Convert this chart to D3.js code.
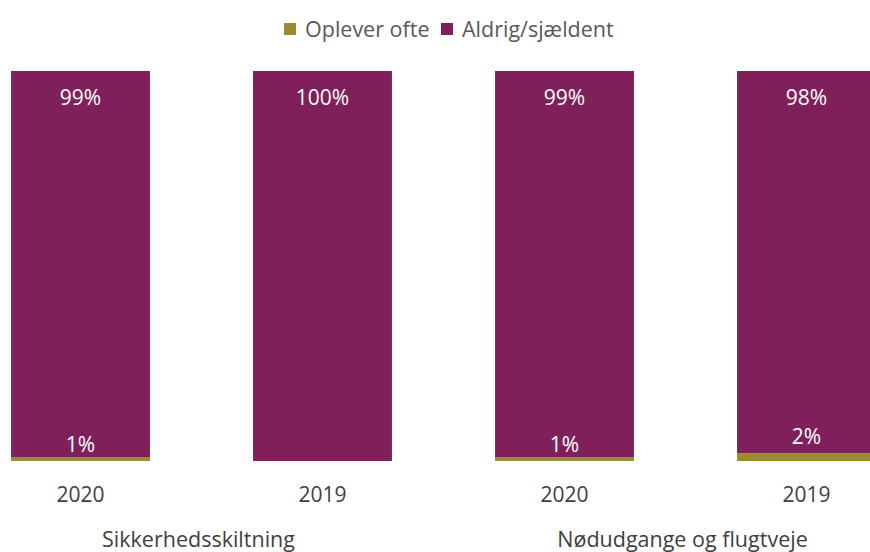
<!DOCTYPE html>
<html>
<head>
<meta charset="utf-8">
<script src="https://cdn.jsdelivr.net/npm/d3@7"></script>
<style>
  body { margin: 0; background: #fff; }
  text { font-family: "Open Sans", sans-serif; }
</style>
</head>
<body>
<script>
const width = 870, height = 552;

// data
const groups = ['Sikkerhedsskiltning', 'Sikkerhedsskiltning', 'Nødudgange og flugtveje', 'Nødudgange og flugtveje'];
const years = ['2020', '2019', '2020', '2019'];
const often = [1, 0, 1, 2];
const never = [99, 100, 99, 98];
const seriesNames = ['Oplever ofte', 'Aldrig/sjældent'];
const colors = ['#9A8A32', '#80205A'];

const keys = years.map((y, i) => i + '');
const rows = keys.map((k, i) => ({ key: k, often: often[i], never: never[i] }));

const svg = d3.select('body').append('svg')
    .attr('width', width)
    .attr('height', height);

// scales
const x = d3.scaleBand().domain(keys).range([-40.5, 927.5]).paddingInner(0.426).paddingOuter(0.213);
const y = d3.scaleLinear().domain([0, 100]).range([461, 71]);

const bars = svg.append('g');

// olive (bottom)
bars.selectAll('rect.often')
    .data(rows)
    .enter().append('rect')
    .attr('class', 'often')
    .attr('x', d => x(d.key))
    .attr('width', x.bandwidth())
    .attr('y', d => y(d.often))
    .attr('height', d => y(0) - y(d.often))
    .attr('fill', colors[0]);

// purple (top)
bars.selectAll('rect.never')
    .data(rows)
    .enter().append('rect')
    .attr('class', 'never')
    .attr('x', d => x(d.key))
    .attr('width', x.bandwidth())
    .attr('y', d => y(d.often + d.never))
    .attr('height', d => y(d.often) - y(d.often + d.never))
    .attr('fill', colors[1]);

// labels
bars.selectAll('text.never')
    .data(rows)
    .enter().append('text')
    .attr('x', d => x(d.key) + x.bandwidth() / 2)
    .attr('y', d => y(d.often + d.never) + 34)
    .attr('text-anchor', 'middle')
    .attr('fill', '#fff')
    .style('font-size', '21px')
    .text(d => d.never + '%');

bars.selectAll('text.often')
    .data(rows.filter(d => d.often > 0))
    .enter().append('text')
    .attr('x', d => x(d.key) + x.bandwidth() / 2)
    .attr('y', d => y(d.often * 2) - 1)
    .attr('text-anchor', 'middle')
    .attr('fill', '#fff')
    .style('font-size', '21px')
    .text(d => d.often + '%');

// x axis labels
const xAxis = d3.axisBottom(x).tickSize(0).tickPadding(0).tickFormat((d, i) => years[i]);
const axisG = svg.append('g')
    .attr('transform', `translate(0,${y(0)})`)
    .call(xAxis);
axisG.select('.domain').remove();
axisG.selectAll('text')
    .attr('dy', 0)
    .attr('y', 41)
    .attr('fill', '#404040')
    .style('font-size', '21px')
    .style('font-family', '"Open Sans", sans-serif');

// group labels
const groupNames = [...new Set(groups)];
groupNames.forEach(g => {
    const idx = groups.map((v, i) => v === g ? i : -1).filter(i => i >= 0);
    const cx = d3.mean(idx, i => x(keys[i]) + x.bandwidth() / 2);
    svg.append('text')
        .attr('x', cx - 3)
        .attr('y', 547)
        .attr('text-anchor', 'middle')
        .attr('fill', '#404040')
        .style('font-size', '21.5px')
        .text(g);
});

// legend
const legend = svg.append('g').attr('transform', 'translate(284,23)');
const lx = [0, 157];
seriesNames.forEach((s, i) => {
    const item = legend.append('g').attr('transform', `translate(${lx[i]},0)`);
    item.append('rect')
        .attr('width', 12).attr('height', 12)
        .attr('fill', colors[i]);
    item.append('text')
        .attr('x', 21).attr('y', 14)
        .attr('fill', '#595959')
        .style('font-size', '21.5px')
        .text(s);
});
</script>
</body>
</html>
